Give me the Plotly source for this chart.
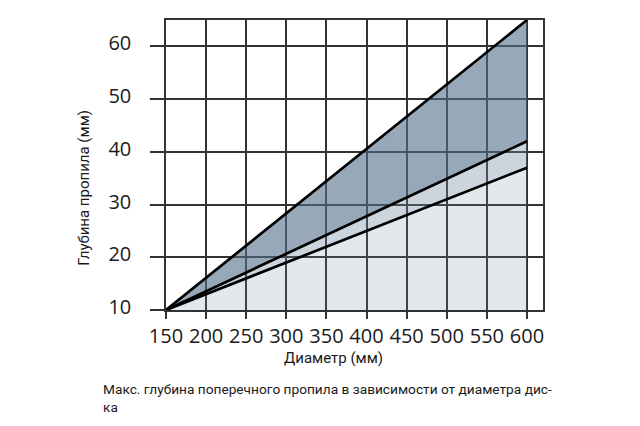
import plotly.graph_objects as go

diameter = [150, 600]
depth_upper = [10, 65]
depth_middle = [10, 42]
depth_lower = [10, 37]

x_ticks = [150, 200, 250, 300, 350, 400, 450, 500, 550, 600]
y_ticks = [10, 20, 30, 40, 50, 60]

x_title = "Диаметр (мм)"
y_title = "Глубина пропила (мм)"
caption = "Макс. глубина поперечного пропила в зависимости от диаметра дис-<br>ка"

narrow = "Roboto, Liberation Sans, sans-serif"
tickfont = dict(family="Open Sans, sans-serif", size=20, color="#1a1a1a")

# page body has an 8px margin; plot area target: left 166, top 18, w 377, h 292
OFF = 8
L, T, W, H = 166, 18, 377, 292

def px(X):
    return (X - L) / W

def py(Y):
    return (T + H - Y) / H

fig = go.Figure()
fig.add_trace(go.Scatter(x=diameter, y=depth_lower, mode="lines",
                         line=dict(color="black", width=2.7),
                         fill="tozeroy", fillcolor="rgba(115,140,160,0.2)"))
fig.add_trace(go.Scatter(x=diameter, y=depth_middle, mode="lines",
                         line=dict(color="black", width=2.7),
                         fill="tonexty", fillcolor="rgba(109,135,158,0.35)"))
fig.add_trace(go.Scatter(x=diameter, y=depth_upper, mode="lines",
                         line=dict(color="black", width=2.7),
                         fill="tonexty", fillcolor="rgba(82,110,137,0.6)"))

axis_common = dict(ticks="outside", tickwidth=1.5, tickcolor="#333",
                   showgrid=True, gridcolor="#333", gridwidth=1.5,
                   showline=True, mirror=True, linecolor="#333", linewidth=1.5,
                   zeroline=False, tickfont=tickfont)

fig.update_layout(
    width=640, height=426,
    margin=dict(l=L - OFF, r=640 - (L + W) + OFF, t=T - OFF, b=426 - (T + H) + OFF),
    paper_bgcolor="white", plot_bgcolor="white",
    showlegend=False,
    xaxis=dict(range=[150, 620], tickvals=x_ticks, ticklen=7, **axis_common),
    yaxis=dict(range=[10, 65], tickvals=y_ticks, ticklen=14,
               ticklabelstandoff=15, ticklabelshift=-3, **axis_common),
    annotations=[
        dict(text=x_title, xref="paper", yref="paper", x=px(333), y=py(358),
             xanchor="center", yanchor="middle", showarrow=False,
             font=dict(family=narrow, size=15, color="#1a1a1a")),
        dict(text=y_title, xref="paper", yref="paper", x=px(84), y=py(187),
             xanchor="center", yanchor="middle", textangle=-90, showarrow=False,
             font=dict(family=narrow, size=15, color="#1a1a1a")),
        dict(text=caption, xref="paper", yref="paper", x=px(101), y=py(379),
             xanchor="left", yanchor="top", align="left", showarrow=False,
             font=dict(family=narrow, size=13.7, color="#1a1a1a")),
    ],
)

fig.write_html("out.html")
